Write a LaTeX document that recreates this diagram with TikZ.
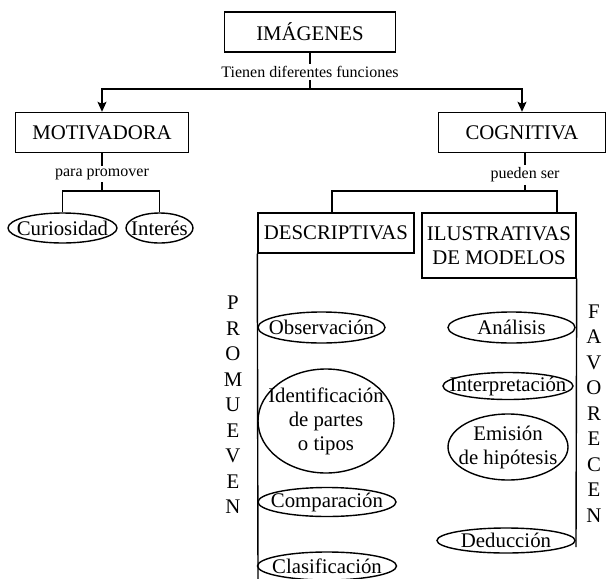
\documentclass[tikz,border=0pt]{standalone}
\usepackage{fontspec}
\setmainfont{Liberation Serif}
\usetikzlibrary{positioning,calc,arrows.meta,shapes.geometric}
\tikzset{font=\fontsize{10.4}{12}\selectfont}

\begin{document}
\begin{tikzpicture}[x=0.5pt, y=-0.5pt, line width=0.7pt]
	\useasboundingbox (0, 0) rectangle (606, 579);
	\begin{scope}
		\tikzstyle{every node}=[align=center, inner sep=1pt]
		\tikzstyle{box}=[draw, minimum height=20pt]
		\tikzstyle{oval}=[draw, ellipse, inner sep=0pt]
		\tikzstyle{lbl}=[font=\fontsize{8}{9}\selectfont]
		\tikzstyle{vert}=[font=\fontsize{10.4}{12.75}\selectfont]
		\tikzstyle{arr}=[-{Stealth[length=5pt, width=4.5pt, inset=1pt]}]

		% boxes
		\node[box, minimum width=85.5pt] (img) at (310, 32) {IMÁGENES};
		\node[box, minimum width=86.5pt] (mot) at (102, 132.5) {MOTIVADORA};
		\node[box, minimum width=83.5pt] (cog) at (522, 132.5) {COGNITIVA};
		\node[box, minimum width=78pt] (desc) at (336, 233) {DESCRIPTIVAS};
		\node[box, minimum width=77pt, minimum height=32.5pt] (ilus) at (499, 245.5) {ILUSTRATIVAS\\DE MODELOS};

		% link labels
		\node[lbl] (fun) at (310, 72) {Tienen diferentes funciones};
		\node[lbl] (para) at (102, 174) {para promover};
		\node[lbl] (pued) at (525, 175) {pueden ser};
		\coordinate (jtop) at (310, 89);
		\coordinate (jmot) at (102, 191);
		\coordinate (jcog) at (525, 191);
		\coordinate (dend) at (258, 579);
		\coordinate (iend) at (576, 547);

		% ovals
		\node[oval, minimum width=54.5pt, minimum height=15pt, label={center:Curiosidad}] (cur) at (62.5, 228) {};
		\node[oval, minimum width=33.5pt, minimum height=15pt, label={center:Interés}] (int) at (159.5, 228) {};
		\node[oval, minimum width=63.5pt, minimum height=15.5pt, label={center:Observación}] (obs) at (321.5, 327.5) {};
		\node[oval, minimum width=68pt, minimum height=52pt, label={center:Identificación\\de partes\\o tipos}] (ide) at (326, 421) {};
		\node[oval, minimum width=69pt, minimum height=14.5pt, label={center:Comparación}] (com) at (327, 502) {};
		\node[oval, minimum width=69.5pt, minimum height=14pt, label={center:Clasificación}] (cla) at (327, 566) {};
		\node[oval, minimum width=63.5pt, minimum height=15.5pt, label={center:Análisis}] (ana) at (511.5, 327.5) {};
		\node[oval, minimum width=65pt, minimum height=13.5pt, label={center:Interpretación}] (inp) at (508, 386) {};
		\node[oval, minimum width=60pt, minimum height=33pt, label={center:Emisión\\de hipótesis}] (emi) at (508, 447) {};
		\node[oval, minimum width=69pt, minimum height=12.5pt, label={center:Deducción}] (ded) at (506, 540.5) {};

		% vertical words
		\node[vert] (prom) at (233, 405) {P\\R\\O\\M\\U\\E\\V\\E\\N};
		\node[vert] (fav) at (594, 413.5) {F\\A\\V\\O\\R\\E\\C\\E\\N};

		\draw      (img) -- (fun);
		\draw      (fun) -- (jtop);
		\draw[arr] (jtop) -| (mot);
		\draw[arr] (jtop) -| (cog);
		\draw      (mot) -- (para);
		\draw      (para) -- (jmot);
		\draw      (jmot) -| (cur);
		\draw      (jmot) -| (int);
		\draw      (pued |- cog.south) -- (pued);
		\draw      (pued) -- (jcog);
		\draw      (jcog) -| ([xshift=-2pt]desc.north);
		\draw      (jcog) -| ([xshift=29pt]ilus.north);
		\draw      (desc.south west) -- (dend);
		\draw      (ilus.south east) -- (iend);
	\end{scope}
\end{tikzpicture}
\end{document}
